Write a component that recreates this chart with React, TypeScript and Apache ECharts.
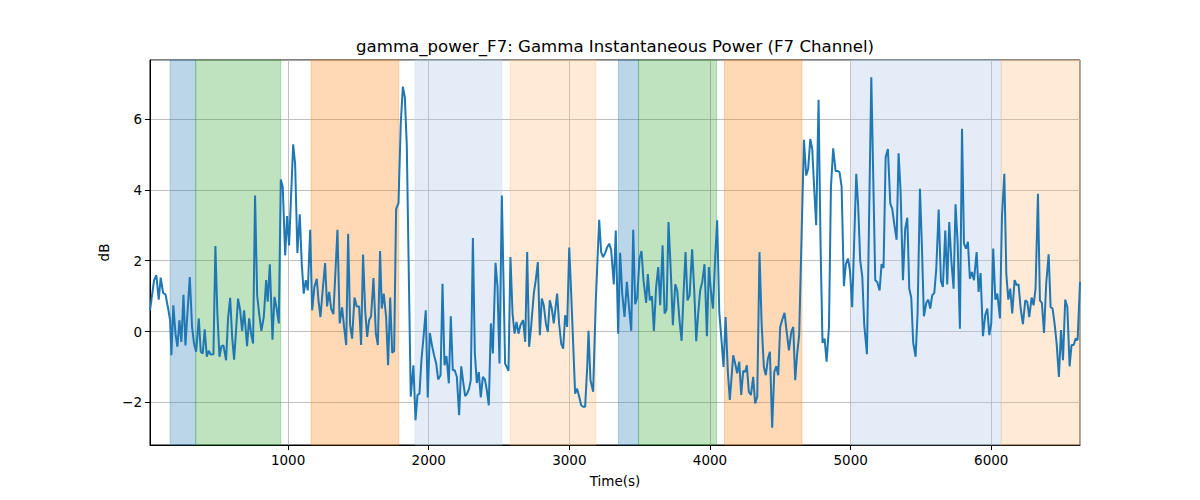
import React, { useEffect, useRef } from "react";
import * as echarts from "echarts";

const TITLE = "gamma_power_F7: Gamma Instantaneous Power (F7 Channel)";
const X_LABEL = "Time(s)";
const Y_LABEL = "dB";

const times: number[] = [
  18, 47, 63, 80, 94, 111, 128, 147, 161, 170, 184, 199, 213, 227, 241, 256, 270, 284, 301, 317, 331, 346, 365, 379, 393, 407, 422, 436, 450, 469, 483, 497, 512, 526, 540, 559, 573, 588, 602, 616, 630, 644, 659, 673, 687, 697, 708, 723, 737, 751, 765, 780, 794, 810, 827, 844,
  855, 870, 889, 903, 917, 934, 948, 962, 979, 993, 1007, 1036, 1050, 1066, 1083, 1097, 1111, 1126, 1140, 1157, 1171, 1187, 1204, 1216, 1230, 1247, 1263, 1277, 1292, 1306, 1322, 1351, 1367, 1384, 1398, 1413, 1427, 1441, 1455, 1472, 1488, 1505, 1519, 1533, 1548, 1562, 1576, 1590, 1607, 1624, 1638, 1654, 1666,
  1680, 1697, 1711, 1726, 1740, 1754, 1768, 1785, 1801, 1816, 1830, 1844, 1872, 1891, 1906, 1920, 1934, 1948, 1963, 1979, 1993, 2008, 2024, 2038, 2053, 2067, 2084, 2098, 2112, 2126, 2143, 2157, 2171, 2185, 2200, 2216, 2231, 2245, 2259, 2273, 2287, 2299, 2314, 2328, 2342, 2356, 2370, 2385, 2399, 2413, 2427, 2442, 2456, 2475, 2489, 2503,
  2520, 2543, 2567, 2581, 2596, 2610, 2624, 2638, 2652, 2671, 2686, 2700, 2714, 2728, 2747, 2761, 2776, 2790, 2804, 2818, 2833, 2847, 2861, 2875, 2889, 2913, 2927, 2942, 2956, 2970, 2984, 2999, 3013, 3027, 3041, 3055, 3070, 3084, 3098, 3112, 3127, 3136, 3150, 3169, 3188, 3212, 3226, 3240, 3255, 3269, 3283, 3297, 3316, 3330,
  3347, 3361, 3376, 3392, 3409, 3423, 3440, 3454, 3468, 3482, 3499, 3513, 3527, 3546, 3558, 3572, 3587, 3601, 3617, 3632, 3646, 3663, 3677, 3691, 3705, 3722, 3736, 3753, 3767, 3783, 3798, 3812, 3826, 3840, 3855, 3873, 3888, 3902, 3916, 3930, 3945, 3961, 3978, 3992, 4006, 4021, 4037, 4051, 4066, 4080, 4096, 4111, 4127, 4141,
  4165, 4179, 4193, 4208, 4222, 4236, 4250, 4262, 4276, 4291, 4307, 4321, 4336, 4352, 4367, 4383, 4397, 4412, 4426, 4442, 4457, 4471, 4485, 4499, 4514, 4530, 4544, 4561, 4578, 4592, 4606, 4620, 4634, 4668, 4684, 4698, 4713, 4727, 4741, 4755, 4772, 4786, 4800, 4815, 4829, 4846, 4860, 4876, 4893, 4907, 4921, 4936, 4952, 4966, 4981, 4995,
  5011, 5040, 5054, 5068, 5083, 5097, 5116, 5147, 5175, 5189, 5206, 5220, 5234, 5249, 5265, 5282, 5296, 5310, 5327, 5341, 5355, 5372, 5388, 5403, 5417, 5431, 5445, 5462, 5476, 5493, 5507, 5521, 5538, 5552, 5566, 5580, 5595, 5609, 5626, 5642, 5656, 5673, 5687, 5701, 5716, 5732, 5746, 5761, 5777, 5792, 5806, 5820,
  5834, 5848, 5862, 5877, 5896, 5910, 5924, 5941, 5957, 5972, 5986, 6000, 6014, 6029, 6043, 6062, 6076, 6093, 6107, 6121, 6135, 6149, 6166, 6180, 6194, 6209, 6225, 6242, 6256, 6270, 6287, 6301, 6315, 6332, 6346, 6360, 6375, 6391, 6408, 6422, 6436, 6450, 6465, 6481, 6496, 6510, 6526, 6541, 6557, 6571, 6586, 6600, 6614, 6631,
];

const power: number[] = [
  0.6, 1.45, 1.59, 0.9, 1.52, 1.09, 1.05, 0.65, 0.32, -0.67, 0.74, -0.06, -0.43, 0.32, -0.29, 1.04, -0.39, 0.51, 1.54, 0.13, -0.34, -0.57, 0.37, -0.57, -0.62, 0.06, -0.71, -0.54, -0.65, -0.64, 2.41, 0.51, -0.71, -0.41, -0.39, -0.81, 0.37, 0.95, -0.15, -0.79, 0.04, 0.93, 0.6, 0.02, 0.6, 0.13, -0.41, 0.37, -0.06, -0.34, 3.84, 1.02, 0.51, 0.02, 0.41, 1.45,
  0.84, 1.9, -0.23, 0.98, 0.69, 0.23, 4.29, 4.08, 2.15, 3.26, 2.43, 5.28, 4.73, 2.22, 3.31, 1.92, 1.07, 1.45, 1.16, 2.87, 0.6, 1.26, 1.49, 0.88, 0.41, 1.21, 1.93, 0.71, 1.12, 0.65, 0.49, 2.87, 0.23, 0.68, 0.13, -0.38, 2.76, 0.18, -0.2, 0.96, 0.71, 0.71, -0.38, 2.17, 0.6, -0.15, 0.32, 0.43, 1.51, -0.06, -0.38, 2.27, 0.65,
  1.07, 0.41, -0.95, 0.96, -0.6, -0.55, 3.46, 3.62, 5.86, 6.91, 6.61, 5.25, -1.84, -0.95, -2.5, -1.79, -1.75, -0.81, -0.15, 0.6, -1.86, -0.04, -0.41, -0.67, -0.9, -1.35, -1.23, 1.35, -0.95, -0.69, -1.46, 0.43, -1.09, -1.09, -1.28, -2.36, -0.98, -1.42, -1.82, -1.75, -1.61, -1.37, 2.64, -0.62, -1.45, -1.14, -1.86, -1.28, -1.35, -1.65, -2.08, 0.23, -0.62, 1.94, 1.26, -0.9,
  3.84, -0.9, -1.11, 2.1, 0.51, -0.06, 0.27, -0.06, 0.18, 0.32, -0.29, 2.24, -0.43, 0.13, 1.07, 1.45, 1.96, -0.1, 0.93, 0.74, 0.23, -0.01, 0.88, 0.65, 0.23, 1.07, 0.23, -0.34, -0.48, 0.46, 0.13, 2.37, 1.07, -0.34, -1.75, -1.61, -1.84, -2.08, -2.12, -2.12, -1.0, 0.02, -1.37, -1.7, 0.88, 3.15, 2.24, 2.1, 2.22, 2.38, 2.48, 2.31, 1.33, 2.85,
  -0.06, 2.22, 1.07, 0.41, 1.4, 0.74, 0.02, 2.87, 0.77, 0.96, 2.06, 2.27, 1.45, 0.81, 1.62, 0.88, 1.0, 0.02, 1.26, 1.82, 0.74, 2.43, 0.51, 0.62, 3.09, 1.63, 0.18, 1.33, 1.16, 0.32, -0.26, 1.07, 2.24, 0.88, 1.02, 2.32, 1.16, -0.27, 0.51, 1.16, 1.4, 1.9, -0.13, 1.82, 1.16, 0.65, 2.1, 3.14, 0.55, -0.15, -1.0, 0.41, -1.14, -1.93,
  -0.67, -0.9, -1.18, -0.85, -1.79, -1.11, -1.14, -0.95, -1.7, -1.79, -1.28, -2.03, -1.84, 2.24, 0.23, -1.0, -1.23, -0.76, -0.57, -2.71, -1.14, -0.98, -1.23, 0.13, 0.34, 0.53, 0.04, -0.53, -0.01, 0.13, -1.37, -0.62, -0.1, 5.41, 4.4, 4.59, 5.43, 5.15, 4.03, 3.0, 6.54, 2.48, -0.32, -0.2, -0.85, 0.13, 4.08, 5.17, 4.53, 4.53, 4.5, 4.08, 1.28, 1.9, 2.06, 1.73,
  0.69, 4.45, 3.51, 2.01, 1.54, 0.18, -0.64, 7.17, 1.45, 1.4, 1.16, 1.9, 1.79, 4.92, 5.15, 3.61, 3.46, 3.04, 2.59, 5.03, 3.98, 1.45, 2.9, 3.21, 1.21, 0.96, -0.32, -0.71, 0.51, 4.03, 2.38, 0.43, 0.81, 0.9, 0.65, 1.02, 1.09, 1.77, 3.44, 1.43, 1.26, 2.85, 1.33, 3.09, 2.01, 1.21, 3.59, 2.48, 0.08, 5.72, 2.48, 2.34,
  2.53, 1.49, 1.68, 1.45, 2.24, 1.12, 1.65, -0.13, 0.46, 0.65, -0.1, 0.23, 2.34, 0.9, 1.07, 0.37, 3.23, 4.45, 1.63, 0.9, 1.21, 0.51, 1.45, 1.31, 1.33, 0.65, 0.21, 0.88, 0.84, 0.41, 0.96, 0.74, 1.21, 3.89, 0.88, 0.81, -0.04, 1.37, 2.18, 0.69, 0.65, 0.23, -0.34, -1.28, 0.04, -0.81, 0.9, 0.69, -0.98, -0.38, -0.38, -0.2, -0.24, 1.4,
];

const spanStarts: number[] = [161, 343, 1163, 1903, 2579, 3349, 3492, 4103, 5009, 6071];
const spanEnds: number[] = [343, 948, 1787, 2520, 3188, 3492, 4047, 4654, 6071, 6631];
const spanKinds: string[] = ["blue", "green", "orange", "paleBlue", "paleOrange", "blue", "green", "orange", "paleBlue", "paleOrange"];

const SPAN_COLORS: Record<string, string> = {
  blue: "rgba(31,119,180,0.3)",
  green: "rgba(44,160,44,0.3)",
  orange: "rgba(255,127,14,0.3)",
  paleBlue: "rgba(174,199,232,0.33)",
  paleOrange: "rgba(255,187,120,0.3)",
};

const FONT = "DejaVu Sans";

export default function App() {
  const ref = useRef<HTMLDivElement>(null);
  useEffect(() => {
    if (!ref.current) return;
    const chart = echarts.init(ref.current, undefined, { renderer: "svg" });
    const lineData = times.map((t, i) => [t, power[i]]);
    const areas = spanStarts.map((s, i) => [
      {
        xAxis: s,
        itemStyle: {
          color: SPAN_COLORS[spanKinds[i]],
          borderColor: SPAN_COLORS[spanKinds[i]],
          borderWidth: 1,
        },
      },
      { xAxis: spanEnds[i] },
    ]);
    chart.setOption({
      animation: false,
      backgroundColor: "#ffffff",
      textStyle: { fontFamily: FONT },
      grid: {
        left: 150,
        right: 120,
        top: 60,
        bottom: 55,
        show: true,
        borderColor: "#000",
        borderWidth: 1,
        backgroundColor: "transparent",
      },
      graphic: [
        {
          type: "text",
          x: 615,
          y: 46,
          style: {
            text: TITLE,
            font: `16.6px "${FONT}"`,
            fill: "#000",
            textAlign: "center",
            textVerticalAlign: "middle",
          },
        },
      ],
      xAxis: {
        type: "value",
        min: 18,
        max: 6631,
        minInterval: 1000,
        maxInterval: 1000,
        name: X_LABEL,
        nameLocation: "middle",
        nameGap: 29,
        nameTextStyle: { fontFamily: FONT, fontSize: 13.5, color: "#000" },
        axisLine: { show: true, onZero: false, lineStyle: { color: "#000", width: 1 } },
        axisTick: { show: true, inside: false, length: 5, lineStyle: { color: "#000" } },
        axisLabel: {
          showMinLabel: false,
          showMaxLabel: false,
          margin: 8,
          color: "#000",
          fontFamily: FONT,
          fontSize: 13.5,
          formatter: (v: number) => String(v),
        },
        splitLine: { show: true, lineStyle: { color: "#b0b0b0", width: 0.8 } },
      },
      yAxis: {
        type: "value",
        min: -3.2,
        max: 7.66,
        minInterval: 2,
        maxInterval: 2,
        name: Y_LABEL,
        nameLocation: "middle",
        nameGap: 36,
        nameRotate: 90,
        nameTextStyle: { fontFamily: FONT, fontSize: 13.5, color: "#000" },
        axisLine: { show: true, onZero: false, lineStyle: { color: "#000", width: 1 } },
        axisTick: { show: true, inside: false, length: 5, lineStyle: { color: "#000" } },
        axisLabel: {
          showMinLabel: false,
          showMaxLabel: false,
          margin: 8,
          color: "#000",
          fontFamily: FONT,
          fontSize: 13.5,
          formatter: (v: number) => (v < 0 ? "\u2212" + Math.abs(v) : String(v)),
        },
        splitLine: { show: true, lineStyle: { color: "#b0b0b0", width: 0.8 } },
      },
      series: [
        {
          type: "line",
          data: lineData,
          showSymbol: false,
          symbol: "none",
          lineStyle: { color: "#1f77b4", width: 2 },
          z: 3,
          markArea: {
            silent: true,
            data: areas,
          },
        },
      ],
    });
    return () => chart.dispose();
  }, []);
  return (
    <div
      ref={ref}
      style={{ position: "fixed", left: 0, top: 0, width: 1200, height: 500 }}
    />
  );
}
